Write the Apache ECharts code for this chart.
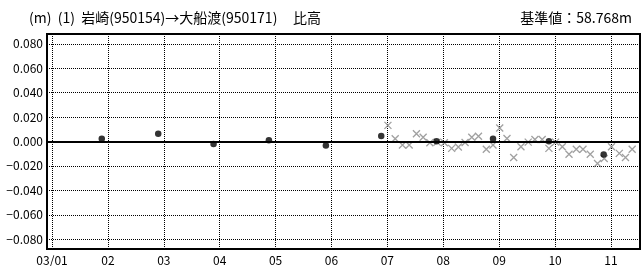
<!DOCTYPE html>
<html>
<head>
<meta charset="utf-8">
<script src="https://cdn.jsdelivr.net/npm/echarts@6/dist/echarts.min.js"></script>
<style>
  html, body { margin: 0; padding: 0; background: #fff; }
  #main { width: 642px; height: 266px; }
</style>
</head>
<body>
<div id="main"></div>
<script>
// x is in months from 03/01 (0 = Jan 1, 1 = Feb 1, ...)
var monthTicks = [0, 1, 2, 3, 4, 5, 6, 7, 8, 9, 10];
var monthLabels = ['03/01', '02', '03', '04', '05', '06', '07', '08', '09', '10', '11'];
var yTicks = [-0.08, -0.06, -0.04, -0.02, 0, 0.02, 0.04, 0.06, 0.08];

// monthly survey (black dots)
var surveyX = [0.89, 1.90, 2.89, 3.88, 4.90, 5.89, 6.88, 7.89, 8.89, 9.87];
var surveyY = [0.0022, 0.0064, -0.0021, 0.0011, -0.0032, 0.0046, 0.0003, 0.0022, 0.0003, -0.0107];

// continuous observation (grey crosses)
var contX = [6.01, 6.14, 6.27, 6.39, 6.52, 6.64, 6.76, 6.89, 7.02, 7.15, 7.27, 7.39,
             7.51, 7.63, 7.77, 7.89, 8.01, 8.14, 8.26, 8.39, 8.52, 8.64, 8.77, 8.89,
             9.01, 9.13, 9.25, 9.38, 9.50, 9.63, 9.76, 9.88, 10.01, 10.15, 10.26, 10.38];
var contY = [0.0132, 0.0022, -0.0029, -0.0029, 0.0064, 0.0035, -0.0010, -0.0005, -0.0010, -0.0056, -0.0045, -0.0008,
             0.0035, 0.0043, -0.0064, -0.0029, 0.0110, 0.0024, -0.0131, -0.0043, -0.0005, 0.0016, 0.0016, -0.0056,
             -0.0005, -0.0043, -0.0105, -0.0064, -0.0064, -0.0105, -0.0180, -0.0139, -0.0043, -0.0097, -0.0131, -0.0064];

function pairs(xs, ys) {
    var out = [];
    for (var i = 0; i < xs.length; i++) out.push([xs[i], ys[i]]);
    return out;
}

var font = '"Noto Sans CJK JP", "Noto Sans", sans-serif';
var myChart = echarts.init(document.getElementById('main'));

myChart.setOption({
    animation: false,
    backgroundColor: '#fff',
    title: [{
        text: '(m)  (1)  岩崎(950154)→大船渡(950171)     比高',
        left: 24, top: 6,
        textStyle: { fontSize: 14, fontWeight: 'normal', color: '#000', fontFamily: font }
    }, {
        text: '基準値：58.768m',
        right: 5, top: 6,
        textStyle: { fontSize: 14, fontWeight: 'normal', color: '#000', fontFamily: font }
    }],
    grid: {
        left: 47, top: 34, right: 2, bottom: 14,
        show: true,
        borderColor: '#000',
        borderWidth: 2,
        containLabel: false
    },
    xAxis: {
        type: 'value',
        min: -0.09,
        max: 10.52,
        axisLine: { show: false },
        axisTick: { show: false, customValues: monthTicks },
        axisLabel: {
            customValues: monthTicks,
            margin: 5,
            fontSize: 12,
            color: '#000',
            fontFamily: font,
            formatter: function (v) {
                return monthLabels[Math.round(v)];
            }
        },
        splitLine: {
            show: true,
            lineStyle: { color: '#000', type: [1, 1], width: 1 }
        }
    },
    yAxis: {
        type: 'value',
        min: -0.088,
        max: 0.088,
        axisLine: { show: false },
        axisTick: { show: false, customValues: yTicks },
        axisLabel: {
            customValues: yTicks,
            margin: 4,
            fontSize: 12,
            color: '#000',
            fontFamily: font,
            formatter: function (v) {
                var s = Math.abs(v).toFixed(3);
                return (v < -1e-9 ? '−' : '') + s;
            }
        },
        splitLine: {
            show: true,
            lineStyle: { color: '#000', type: [1, 1], width: 1 }
        }
    },
    series: [{
        name: 'continuous',
        type: 'scatter',
        symbol: 'path://M0,0L10,10M10,0L0,10',
        symbolSize: 7,
        itemStyle: { color: 'none', borderColor: '#888', borderWidth: 1.3 },
        data: pairs(contX, contY),
        markLine: {
            silent: true,
            symbol: 'none',
            label: { show: false },
            lineStyle: { color: '#000', type: 'solid', width: 2 },
            data: [{ yAxis: 0 }]
        }
    }, {
        name: 'survey',
        type: 'scatter',
        symbol: 'circle',
        symbolSize: 6.5,
        itemStyle: { color: '#000' },
        data: pairs(surveyX, surveyY)
    }]
});
</script>
</body>
</html>
